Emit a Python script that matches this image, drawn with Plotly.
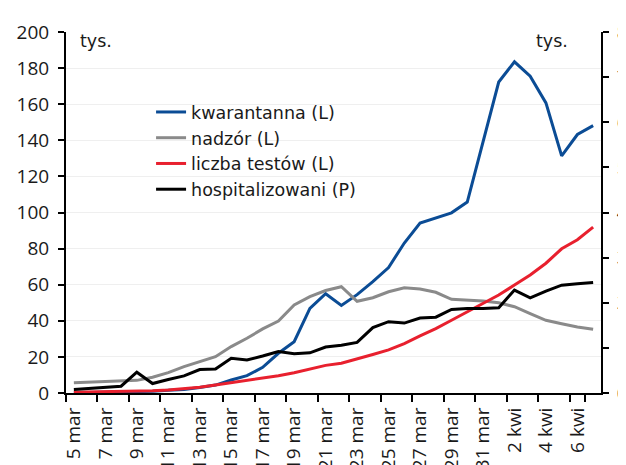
import plotly.graph_objects as go

dates = [f"{d} mar" for d in range(5, 32)] + [f"{d} kwi" for d in range(1, 8)]

kwarantanna = [0.1, 0.2, 0.3, 0.4, 0.6, 1.0, 1.5, 2.0, 3.0, 4.4, 7.2, 9.6, 14.2, 22.0,
               28.4, 46.9, 55.0, 48.5, 54.5, 61.7, 69.5, 83.1, 94.2, 97.0, 99.8, 105.8,
               139.0, 172.3, 183.5, 175.5, 160.7, 131.4, 143.2, 148.1]
nadzor = [5.7, 6.1, 6.5, 7.0, 7.0, 8.7, 11.3, 14.6, 17.2, 20.1, 25.7, 30.3, 35.5, 39.9,
          48.8, 53.4, 56.8, 58.9, 50.8, 52.8, 56.1, 58.3, 57.6, 55.8, 51.9, 51.5, 51.0,
          50.0, 47.8, 44.0, 40.3, 38.4, 36.6, 35.3]
testy = [0.4, 0.5, 0.6, 0.8, 1.0, 1.3, 1.7, 2.3, 3.2, 4.4, 5.7, 6.8, 8.1, 9.6, 11.2,
         13.2, 15.3, 16.5, 18.8, 21.3, 23.9, 27.4, 31.6, 35.7, 40.3, 45.0, 49.6, 54.3,
         59.8, 65.4, 71.9, 79.9, 84.9, 91.9]
hospitalizowani = [0.08, 0.10, 0.12, 0.15, 0.46, 0.21, 0.30, 0.38, 0.52, 0.53, 0.77,
                   0.73, 0.82, 0.92, 0.87, 0.89, 1.02, 1.06, 1.12, 1.45, 1.58, 1.55,
                   1.66, 1.68, 1.85, 1.87, 1.87, 1.89, 2.28, 2.11, 2.26, 2.39, 2.42, 2.45]

tick_labels = dates[::2]

TICK_FONT = "Open Sans"
TEXT_FONT = "DejaVu Sans"
fig = go.Figure()
fig.add_trace(go.Scatter(x=dates, y=kwarantanna, name="kwarantanna (L)", mode="lines",
                         line=dict(color="#0B4C95", width=3)))
fig.add_trace(go.Scatter(x=dates, y=nadzor, name="nadzór (L)", mode="lines",
                         line=dict(color="#8A8A8A", width=3)))
fig.add_trace(go.Scatter(x=dates, y=testy, name="liczba testów (L)", mode="lines",
                         line=dict(color="#E8202E", width=3)))
fig.add_trace(go.Scatter(x=dates, y=hospitalizowani, name="hospitalizowani (P)", mode="lines",
                         line=dict(color="#000000", width=3), yaxis="y2"))

# page body adds an 8px offset; figure sized so plot area lands where the reference has it
fig.update_layout(
    width=618, height=457,
    margin=dict(l=58, r=25, t=24, b=72),
    paper_bgcolor="white", plot_bgcolor="white",
    font=dict(family=TICK_FONT, size=19, color="#1a1a1a"),
    showlegend=True,
    legend=dict(x=0.159, y=0.828, xanchor="left", yanchor="top",
                bgcolor="rgba(255,255,255,0)",
                font=dict(family=TEXT_FONT, size=17.5), tracegroupgap=0),
    xaxis=dict(type="category", categoryorder="array", categoryarray=dates,
               tickmode="array", tickvals=tick_labels, ticktext=tick_labels,
               tickangle=-90, tickson="boundaries", ticks="outside", ticklen=7,
               tickwidth=2, tickcolor="black", showline=True, linecolor="black",
               linewidth=2, showgrid=False, range=[-0.5, 33.5], automargin=False,
               ticklabelstandoff=5),
    yaxis=dict(range=[0, 200], dtick=20, ticks="outside", ticklen=6, tickwidth=2,
               tickcolor="black", showline=True, linecolor="black", linewidth=2,
               showgrid=True, gridcolor="#efefef", gridwidth=1, zeroline=False,
               ticklabelstandoff=5, automargin=False),
    yaxis2=dict(range=[0, 8], dtick=1, overlaying="y", side="right", ticks="outside",
                ticklen=6, tickwidth=2, tickcolor="black", showline=True,
                linecolor="black", linewidth=2, showgrid=False, zeroline=False,
                ticklabelstandoff=4, ticklabeloverflow="allow", automargin=False),
    annotations=[
        dict(text="tys.", xref="paper", yref="paper", x=0.022, y=0.976,
             xanchor="left", yanchor="middle", showarrow=False,
             font=dict(family=TEXT_FONT, size=17.5)),
        dict(text="tys.", xref="paper", yref="paper", x=0.942, y=0.976,
             xanchor="right", yanchor="middle", showarrow=False,
             font=dict(family=TEXT_FONT, size=17.5)),
    ],
)

fig.write_html("out.html")
